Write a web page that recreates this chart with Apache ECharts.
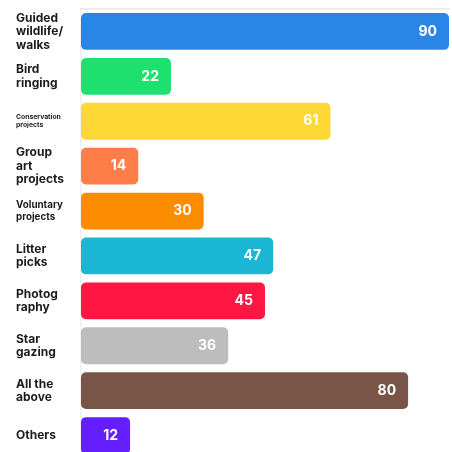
<!DOCTYPE html>
<html><head><meta charset="utf-8">
<script src="https://cdn.jsdelivr.net/npm/echarts@6/dist/echarts.min.js"></script>
<style>html,body{margin:0;padding:0;background:#fff}#c{width:452px;height:452px}</style>
</head><body><div id="c"></div>
<script>
const categories = ["Guided\nwildlife/\nwalks","Bird\nringing","Conservation\nprojects","Group\nart\nprojects","Voluntary\nprojects","Litter\npicks","Photog\nraphy","Star\ngazing","All the\nabove","Others"];
const values = [90,22,61,14,30,47,45,36,80,12];
const colors = ["#2A86E6","#1EE06E","#FDD835","#FF7D48","#FB8C00","#1AB6D3","#FF1744","#BDBDBD","#795548","#651FFF"];
const FONT = 'Inter';
const chart = echarts.init(document.getElementById('c'));
chart.setOption({
  animation:false,
  grid:{left:81,top:9,width:368,height:449,containLabel:false,outerBoundsMode:'none'},
  xAxis:{type:'value',position:'top',min:0,max:90,show:true,
    axisLine:{show:true,lineStyle:{color:'#ececec',width:2}},
    axisTick:{show:false},axisLabel:{show:false},splitLine:{show:false}},
  yAxis:{type:'category',inverse:true,data:categories,offset:9,
    axisLine:{show:true,lineStyle:{color:'#eeeeee',width:1.5}},
    axisTick:{show:false},
    axisLabel:{align:'left',margin:56,color:'#1c1c1c',fontFamily:FONT,fontWeight:'bold',fontSize:12,lineHeight:13.5,
      formatter:function(v){
        if(v.indexOf('Conservation')===0){return v.split('\n').map(s=>'{s|'+s+'}').join('\n');}
        if(v.indexOf('Voluntary')===0){return v.split('\n').map(s=>'{m|'+s+'}').join('\n');}
        return v;
      },
      rich:{
        s:{fontSize:6.8,lineHeight:8,fontWeight:'bold',fontFamily:FONT,color:'#222'},
        m:{fontSize:9.8,lineHeight:11.5,fontWeight:'bold',fontFamily:FONT,color:'#1c1c1c'}
      }
    }},
  series:[{type:'bar',barWidth:'82%',
    data:values.map((v,i)=>({value:v,itemStyle:{color:colors[i]}})),
    itemStyle:{borderRadius:5},
    label:{show:true,position:'insideRight',distance:12,color:'#fff',fontFamily:FONT,fontWeight:'bold',fontSize:14}
  }]
});
</script></body></html>
